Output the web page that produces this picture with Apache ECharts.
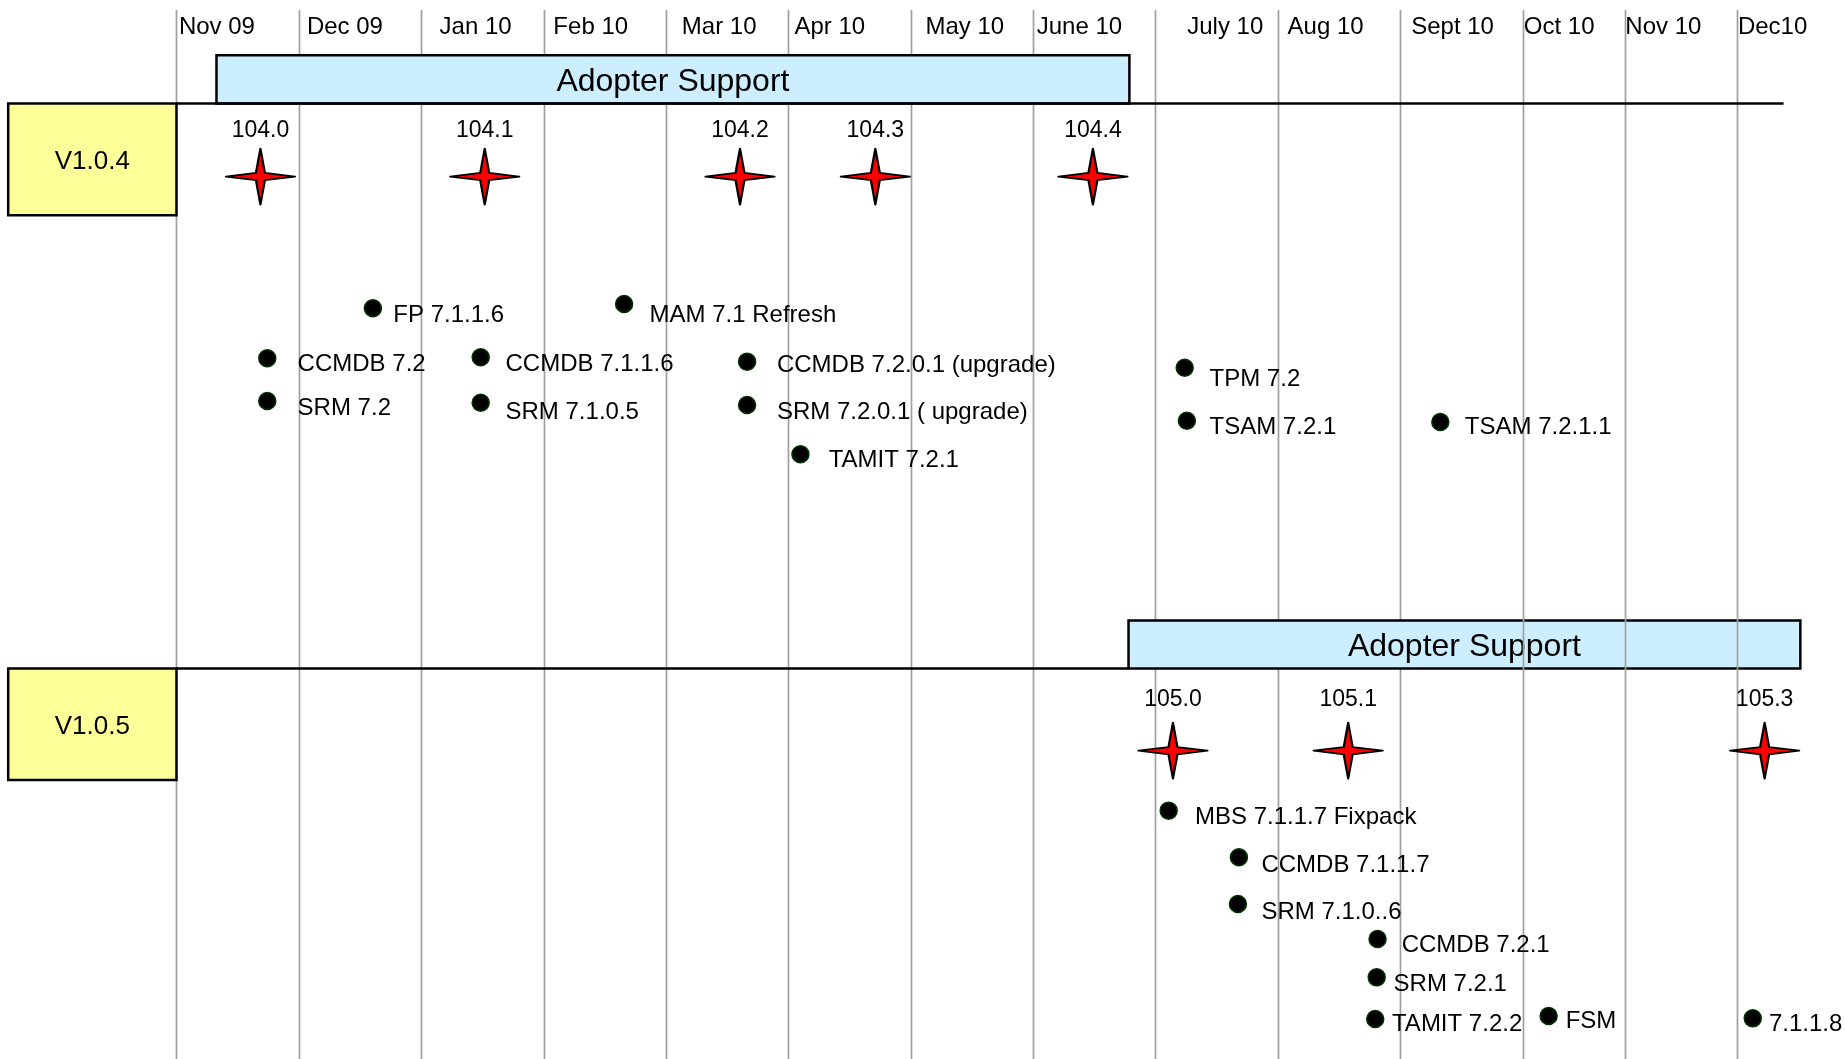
<!DOCTYPE html>
<html>
<head>
<meta charset="utf-8">
<script src="https://cdn.jsdelivr.net/npm/echarts/dist/echarts.min.js"></script>
<style>
html,body{margin:0;padding:0;background:#ffffff;}
#chart{width:1845px;height:1059px;}
</style>
</head>
<body>
<div id="chart"></div>
<script>
// ---- Data (x in months from the Nov 09 line, y on a 0-100 vertical scale, top = 0) ----
const monthLabels = ['Nov 09','Dec 09','Jan 10','Feb 10','Mar 10','Apr 10','May 10','June 10','July 10','Aug 10','Sept 10','Oct 10','Nov 10','Dec10'];
const monthLabelX = [0.02, 1.066, 2.15, 3.08, 4.13, 5.05, 6.12, 7.03, 8.26, 9.08, 10.09, 11.01, 11.84, 12.76];
const monthLabelY = 2.55;
const monthLineX = [0, 1, 2, 3, 4, 5, 6, 7, 8, 9, 10, 11, 11.834, 12.749];
const monthLineFront = [false,false,false,false,false,false,false,false,false,false,false,true,true,true];
const monthLineTop = 0.94;
const monthLineBottom = 100;

const versionNames = ['V1.0.4', 'V1.0.5'];
const versionBoxes = [[-1.375, 0, 9.77, 20.33], [-1.375, 0, 63.12, 73.65]];

const supportNames = ['Adopter Support', 'Adopter Support'];
const supportBoxes = [[0.327, 7.787, 5.22, 9.77], [7.78, 13.27, 58.59, 63.12]];

const laneLines = [[0, 13.133, 9.77], [0, 7.78, 63.12]];

const stars104Names = ['104.0','104.1','104.2','104.3','104.4'];
const stars104X = [0.686, 2.519, 4.605, 5.711, 7.489];
const stars104Y = 16.67;

const stars105Names = ['105.0','105.1','105.3'];
const stars105X = [8.143, 9.575, 12.978];
const stars105Y = 70.89;

const itemNames = ['FP 7.1.1.6','MAM 7.1 Refresh','CCMDB 7.2','SRM 7.2','CCMDB 7.1.1.6','SRM 7.1.0.5',
  'CCMDB 7.2.0.1 (upgrade)','SRM 7.2.0.1 ( upgrade)','TAMIT 7.2.1','TPM 7.2','TSAM 7.2.1','TSAM 7.2.1.1',
  'MBS 7.1.1.7 Fixpack','CCMDB 7.1.1.7','SRM 7.1.0..6','CCMDB 7.2.1','SRM 7.2.1','TAMIT 7.2.2','FSM','7.1.1.8'];
const itemX = [1.605, 3.658, 0.742, 0.742, 2.486, 2.486, 4.663, 4.663, 5.099, 8.239, 8.257, 10.328,
  8.108, 8.682, 8.674, 9.815, 9.808, 9.796, 11.213, 12.881];
const itemY = [29.11, 28.71, 33.83, 37.87, 33.74, 38.03, 34.15, 38.24, 42.9, 34.72, 39.73, 39.85,
  76.55, 80.95, 85.36, 88.67, 92.29, 96.22, 95.94, 96.16];
// where each item's text begins (same axis units)
const itemLabelX = [1.7725, 3.866, 0.990, 0.990, 2.689, 2.689, 4.907, 4.907, 5.330, 8.442, 8.442, 10.528,
  8.323, 8.866, 8.866, 10.012, 9.946, 9.933, 11.352, 13.013];
const itemLabelY = [29.79, 29.82, 34.37, 38.52, 34.37, 38.93, 34.49, 38.93, 43.48, 35.87, 40.39, 40.39,
  77.16, 81.72, 86.19, 89.27, 92.92, 96.69, 96.48, 96.69];

// ---- Build ----
const FONT = '"Liberation Sans", Arial, Helvetica, sans-serif';
const starPath = 'path://M0,-100 L13,-13 L100,0 L13,13 L0,100 L-13,13 L-100,0 L-13,-13 Z';

function lineData(front) {
  const out = [];
  monthLineX.forEach((x, i) => { if (monthLineFront[i] === front) out.push([x, monthLineTop, monthLineBottom]); });
  return out;
}
function vLineRender(params, api) {
  const a = api.coord([api.value(0), api.value(1)]);
  const b = api.coord([api.value(0), api.value(2)]);
  const x = Math.round(a[0]) + 0.5;
  return {type: 'line', shape: {x1: x, y1: a[1], x2: x, y2: b[1]},
    style: {stroke: '#a0a0a0', lineWidth: 1.7}};
}
function boxRender(fill, names, fontSize) {
  return function (params, api) {
    const p0 = api.coord([api.value(0), api.value(2)]);
    const p1 = api.coord([api.value(1), api.value(3)]);
    return {type: 'group', children: [
      {type: 'rect', shape: {x: p0[0], y: p0[1], width: p1[0] - p0[0], height: p1[1] - p0[1]},
        style: {fill: fill, stroke: '#000', lineWidth: 2.5}},
      {type: 'text', style: {text: names[params.dataIndex], x: (p0[0] + p1[0]) / 2, y: (p0[1] + p1[1]) / 2 + 2.5,
        align: 'center', verticalAlign: 'middle', fontSize: fontSize, fontFamily: FONT, fill: '#000'}}
    ]};
  };
}
function textRender(names, fontSize) {
  return function (params, api) {
    const p = api.coord([api.value(0), api.value(1)]);
    return {type: 'text', style: {text: names[params.dataIndex], x: p[0], y: p[1],
      align: 'left', verticalAlign: 'middle', fontSize: fontSize, fontFamily: FONT, fill: '#000'}};
  };
}

const option = {
  animation: false,
  backgroundColor: '#ffffff',
  grid: {left: 23.5, right: 16.5, top: 0, bottom: 0, containLabel: false},
  xAxis: {type: 'value', min: -1.25, max: 13.5, show: false},
  yAxis: {type: 'value', min: 0, max: 100, inverse: true, show: false},
  series: [
    {type: 'custom', name: 'gridBack', z: 1, silent: true, renderItem: vLineRender,
      data: lineData(false), encode: {x: 0, y: [1, 2]}},
    {type: 'custom', name: 'support', z: 2, silent: true, renderItem: boxRender('#cceeff', supportNames, 32),
      data: supportBoxes, encode: {x: [0, 1], y: [2, 3]}},
    {type: 'custom', name: 'gridFront', z: 3, silent: true, renderItem: vLineRender,
      data: lineData(true), encode: {x: 0, y: [1, 2]}},
    {type: 'custom', name: 'lanes', z: 4, silent: true,
      renderItem: function (params, api) {
        const a = api.coord([api.value(0), api.value(2)]);
        const b = api.coord([api.value(1), api.value(2)]);
        return {type: 'line', shape: {x1: a[0], y1: a[1], x2: b[0], y2: b[1]}, style: {stroke: '#000', lineWidth: 2.5}};
      },
      data: laneLines, encode: {x: [0, 1], y: 2}},
    {type: 'custom', name: 'versions', z: 5, silent: true, renderItem: boxRender('#ffff99', versionNames, 26),
      data: versionBoxes, encode: {x: [0, 1], y: [2, 3]}},
    {type: 'custom', name: 'months', z: 6, silent: true, renderItem: textRender(monthLabels, 24),
      data: monthLabelX.map(x => [x, monthLabelY]), encode: {x: 0, y: 1}},
    {type: 'scatter', name: 'V1.0.4 drops', z: 7, symbol: starPath, symbolSize: [69, 56],
      itemStyle: {color: '#ff0000', borderColor: '#000', borderWidth: 2, borderJoin: 'round', opacity: 1},
      label: {show: true, position: 'top', distance: 5, fontSize: 23, fontFamily: FONT, color: '#000',
        formatter: p => stars104Names[p.dataIndex]},
      data: stars104X.map(x => [x, stars104Y])},
    {type: 'scatter', name: 'V1.0.5 drops', z: 7, symbol: starPath, symbolSize: [69, 56],
      itemStyle: {color: '#ff0000', borderColor: '#000', borderWidth: 2, borderJoin: 'round', opacity: 1},
      label: {show: true, position: 'top', distance: 10.5, fontSize: 23, fontFamily: FONT, color: '#000',
        formatter: p => stars105Names[p.dataIndex]},
      data: stars105X.map(x => [x, stars105Y])},
    {type: 'scatter', name: 'products', z: 8, symbol: 'circle', symbolSize: 17,
      itemStyle: {color: '#000', borderColor: '#003300', borderWidth: 1.5, opacity: 1},
      data: itemX.map((x, i) => [x, itemY[i]])},
    {type: 'custom', name: 'productLabels', z: 9, silent: true, renderItem: textRender(itemNames, 24),
      data: itemLabelX.map((x, i) => [x, itemLabelY[i]]), encode: {x: 0, y: 1}}
  ]
};

const chart = echarts.init(document.getElementById('chart'), null, {renderer: 'canvas'});
chart.setOption(option);
</script>
</body>
</html>
